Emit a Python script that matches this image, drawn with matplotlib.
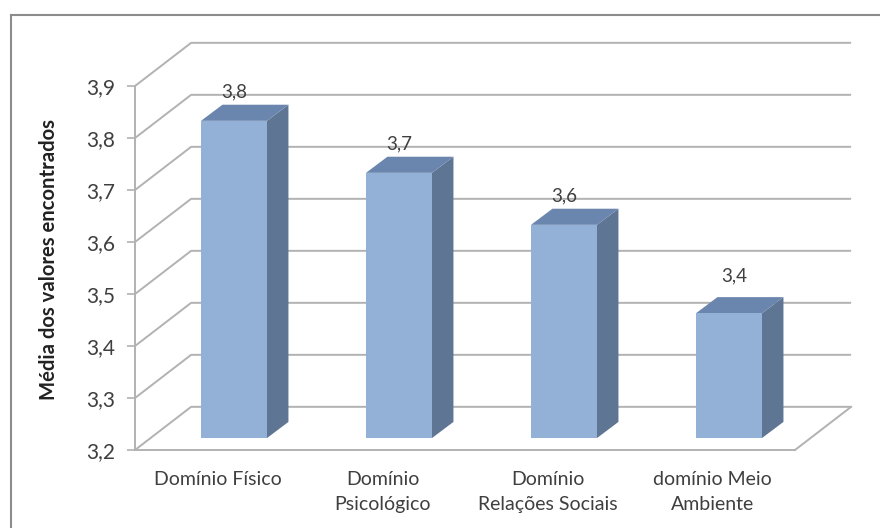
import numpy as np
import matplotlib
matplotlib.use('Agg')
import matplotlib.pyplot as plt
from matplotlib.lines import Line2D

plt.rcParams.update({'font.family': 'Lato', 'font.size': 14})

categories = ['Domínio Físico', 'Domínio\nPsicológico', 'Domínio\nRelações Sociais', 'domínio Meio\nAmbiente']
values = [3.81, 3.71, 3.61, 3.44]
value_labels = ['3,8', '3,7', '3,6', '3,4']
yticks = [3.2, 3.3, 3.4, 3.5, 3.6, 3.7, 3.8, 3.9]

W, H = 880, 528
GRID = '#b2b2b2'
TXT = '#3f3f3f'

fig = plt.figure(figsize=(W / 100, H / 100), dpi=100)
ax = fig.add_axes([135 / W, 1 - 450 / H, 660 / W, 364 / H])
ax.set_xlim(0, 4)
ax.set_ylim(3.2, 3.9)
ax.patch.set_alpha(0)

# pseudo 3d offsets, in data units
wall_dx, wall_dy = 0.34, 0.083
gap_dx, gap_dy = 0.1, 0.023
depth_dx, depth_dy = 0.13, 0.031
bar_w = 0.40

# back wall grid and floor
for v in yticks:
    ax.plot([0, wall_dx, 4 + wall_dx], [v, v + wall_dy, v + wall_dy], color=GRID, lw=1.4,
            clip_on=False, zorder=1, solid_capstyle='butt')
ax.plot([4, 4 + wall_dx], [3.2, 3.2 + wall_dy], color=GRID, lw=1.4, clip_on=False, zorder=1)

# bars
for i, v in enumerate(values):
    x0 = i + 0.5 - bar_w / 2 + gap_dx
    x1 = x0 + bar_w
    y0 = 3.2 + gap_dy
    y1 = v + gap_dy
    ax.fill([x1, x1 + depth_dx, x1 + depth_dx, x1],
            [y0, y0 + depth_dy, y1 + depth_dy, y1], color='#5e7594', lw=0, clip_on=False, zorder=3)
    ax.fill([x0, x0 + depth_dx, x1 + depth_dx, x1],
            [y1, y1 + depth_dy, y1 + depth_dy, y1], color='#6b86ae', lw=0, clip_on=False, zorder=3)
    ax.fill([x0, x1, x1, x0], [y0, y0, y1, y1], color='#93b0d6', lw=0, clip_on=False, zorder=4)
    extra = 6 if i == 3 else 0
    ax.annotate(value_labels[i], ((x0 + x1) / 2 + (0.03 if i == 3 else 0), y1 + depth_dy),
                xytext=(0, 3 + extra), textcoords='offset points', ha='center', va='bottom',
                color=TXT, fontsize=13.5, zorder=5, annotation_clip=False)

for s in ['top', 'right']:
    ax.spines[s].set_visible(False)
for s in ['left', 'bottom']:
    ax.spines[s].set_color(GRID)
    ax.spines[s].set_linewidth(1.4)
    ax.spines[s].set_zorder(2)

ax.set_yticks(yticks)
ax.set_yticklabels([f'{v:.1f}'.replace('.', ',') for v in yticks], fontsize=15, color=TXT)
ax.tick_params(axis='y', length=5.5, width=1.2, color=GRID, pad=9)
ax.set_xticks(np.arange(4) + 0.5)
ax.set_xticklabels(categories, fontsize=14, color=TXT, linespacing=1.55)
ax.tick_params(axis='x', length=0, pad=15)
ax.set_ylabel('Média dos valores encontrados', fontsize=14.6, fontweight='bold', color='#222222')
ax.yaxis.set_label_coords((59 - 135) / 660, 0.523)

# chart frame, only left and top show in the picture
fig.add_artist(Line2D([11 / W, 11 / W], [0, 1 - 15 / H], color='#8c8c8c', lw=1.5))
fig.add_artist(Line2D([11 / W, 1], [1 - 15 / H, 1 - 15 / H], color='#8c8c8c', lw=1.5))

fig.savefig('out.png', dpi=100)
